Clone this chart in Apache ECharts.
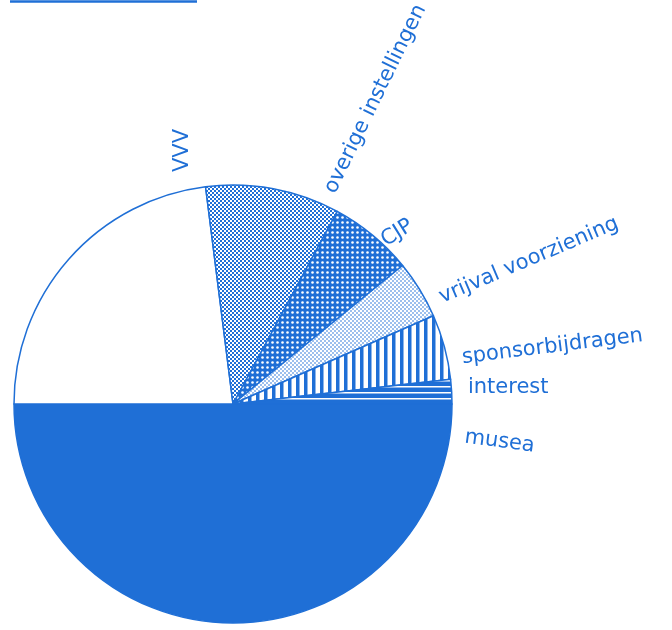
<!DOCTYPE html>
<html>
<head>
<meta charset="utf-8">
<script src="https://cdn.jsdelivr.net/npm/echarts@6/dist/echarts.min.js"></script>
<style>
html,body{margin:0;padding:0;background:#fff;}
#chart{width:672px;height:630px;}
</style>
</head>
<body>
<div id="chart"></div>
<script>
// ---- data ----
var categories = ['musea', 'VVV', 'overige instellingen', 'CJP', 'vrijval voorziening', 'sponsorbijdragen', 'interest'];
var shares = [50, 23, 9.9, 6.2, 4.3, 4.8, 1.8];

// ---- label placement (polar, relative to the pie) ----
var labelAngle  = [-8.1, 3.9, 11.4, 27.1, 47.2, 65.4, 102.2];
var labelDist   = [234, 235.5, 233.6, 232.6, 220.8, 233, 237.3];
var labelRotate = [-7.5, 0, 7, 23, 32, 64, 90];
// reorder to category order: musea, VVV, overige, CJP, vrijval, sponsor, interest
var labelOrder = [0, 6, 5, 4, 3, 2, 1];

var BLUE = '#1f6fd6';
var CX = 233, CY = 404, R = 219;

function tile(w, h, draw) {
  var c = document.createElement('canvas');
  c.width = w; c.height = h;
  var g = c.getContext('2d');
  draw(g, w, h);
  return { image: c, repeat: 'repeat' };
}
var patChecker = tile(4, 4, function (g) {
  g.fillStyle = '#fff'; g.fillRect(0, 0, 4, 4);
  g.fillStyle = BLUE; g.fillRect(0, 0, 2, 2); g.fillRect(2, 2, 2, 2);
});
var patWhiteDots = tile(5, 5, function (g) {
  g.fillStyle = BLUE; g.fillRect(0, 0, 5, 5);
  g.fillStyle = '#fff'; g.beginPath(); g.arc(2.5, 2.5, 1.3, 0, Math.PI * 2); g.fill();
});
var patBlueDots = tile(4, 4, function (g) {
  g.fillStyle = '#fff'; g.fillRect(0, 0, 4, 4);
  g.fillStyle = BLUE;
  g.beginPath(); g.arc(1, 1, 0.8, 0, Math.PI * 2); g.fill();
  g.beginPath(); g.arc(3, 3, 0.8, 0, Math.PI * 2); g.fill();
});
var patVStripes = tile(8, 8, function (g) {
  g.fillStyle = '#fff'; g.fillRect(0, 0, 8, 8);
  g.fillStyle = BLUE; g.fillRect(0, 0, 3.5, 8);
});
var patHStripes = tile(8, 6, function (g) {
  g.fillStyle = BLUE; g.fillRect(0, 0, 8, 6);
  g.fillStyle = '#fff'; g.fillRect(0, 2, 8, 1.5);
});
var fills = [BLUE, '#ffffff', patChecker, patWhiteDots, patBlueDots, patVStripes, patHStripes];

var data = categories.map(function (name, i) {
  return { name: name, value: shares[i], itemStyle: { color: fills[i] } };
});

var chart = echarts.init(document.getElementById('chart'), null, { renderer: 'canvas' });
chart.setOption({
  animation: false,
  backgroundColor: '#fff',
  graphic: [{
    type: 'line', shape: { x1: 10, y1: 1.5, x2: 197, y2: 1.5 },
    style: { stroke: BLUE, lineWidth: 2.5 }
  }],
  series: [{
    type: 'pie',
    center: [CX, CY],
    radius: R,
    startAngle: 0,
    clockwise: true,
    silent: true,
    avoidLabelOverlap: false,
    itemStyle: { borderColor: BLUE, borderWidth: 1.5 },
    label: {
      show: true, position: 'outside', color: BLUE,
      fontFamily: 'DejaVu Sans', fontSize: 21, formatter: '{b}'
    },
    labelLine: { show: false },
    labelLayout: function (p) {
      var k = labelOrder[p.dataIndex];
      var a = labelAngle[k] * Math.PI / 180;
      return {
        x: CX + labelDist[k] * Math.cos(a),
        y: CY - labelDist[k] * Math.sin(a),
        rotate: labelRotate[k],
        align: 'left',
        verticalAlign: 'middle'
      };
    },
    data: data
  }]
});
</script>
</body>
</html>
